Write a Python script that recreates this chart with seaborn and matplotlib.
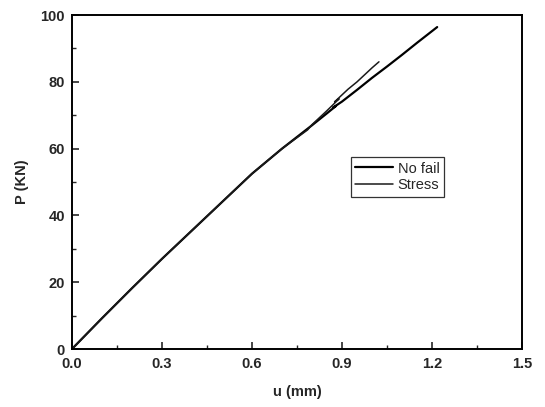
import matplotlib
matplotlib.use("Agg")
import matplotlib.pyplot as plt
from matplotlib.ticker import MultipleLocator, FormatStrFormatter
import seaborn as sns
import pandas as pd

# Data
u_nofail = [0.0, 0.1, 0.2, 0.3, 0.4, 0.5, 0.6, 0.7, 0.8, 0.85, 0.88, 0.87, 0.9, 0.95,
            1.0, 1.05, 1.1, 1.15, 1.217]
p_nofail = [0.0, 9.2, 18.2, 27.0, 35.5, 44.0, 52.5, 60.0, 67.0, 70.6, 72.8, 72.3, 74.1,
            77.6, 81.2, 84.6, 88.1, 91.7, 96.4]

u_stress = [0.0, 0.1, 0.2, 0.3, 0.4, 0.5, 0.6, 0.7, 0.785, 0.8, 0.85, 0.89, 0.875,
            0.92, 0.95, 1.0, 1.023]
p_stress = [0.0, 9.2, 18.2, 27.0, 35.5, 44.0, 52.5, 60.0, 65.6, 67.2, 71.4, 74.9, 74.0,
            77.8, 80.0, 84.2, 86.0]

series_names = ["No fail", "Stress"]

df = pd.concat([
    pd.DataFrame({"u": u_nofail, "P": p_nofail, "series": series_names[0]}),
    pd.DataFrame({"u": u_stress, "P": p_stress, "series": series_names[1]}),
], ignore_index=True)

sns.set_theme(style="ticks")
plt.rcParams["font.family"] = ["Liberation Sans", "DejaVu Sans"]
plt.rcParams["font.weight"] = "bold"

fig = plt.figure(figsize=(5.45, 4.07), dpi=100)
ax = fig.add_axes([0.132, 0.1425, 0.826, 0.8205])

sns.lineplot(data=df[df.series == "No fail"], x="u", y="P", sort=False, ax=ax,
             color="black", linewidth=1.6, label="No fail", estimator=None)
sns.lineplot(data=df[df.series == "Stress"], x="u", y="P", sort=False, ax=ax,
             color="#1a1a1a", linewidth=1.1, label="Stress", estimator=None)

ax.set_xlim(0, 1.5)
ax.set_ylim(0, 100)
ax.xaxis.set_major_locator(MultipleLocator(0.3))
ax.xaxis.set_minor_locator(MultipleLocator(0.15))
ax.yaxis.set_major_locator(MultipleLocator(20))
ax.yaxis.set_minor_locator(MultipleLocator(10))
ax.xaxis.set_major_formatter(FormatStrFormatter("%.1f"))
ax.tick_params(which="major", direction="in", length=5, width=1.2, labelsize=10.5,
               top=False, right=False)
ax.tick_params(axis="x", which="major", pad=6)
ax.tick_params(axis="y", which="major", pad=5)
ax.tick_params(which="minor", direction="in", length=3, width=1.0)
for lab in ax.get_xticklabels() + ax.get_yticklabels():
    lab.set_fontweight("bold")
for sp in ax.spines.values():
    sp.set_visible(True)
    sp.set_linewidth(1.4)
    sp.set_color("black")

ax.set_xlabel("u (mm)", fontsize=10.5, fontweight="bold", labelpad=10)
ax.set_ylabel("P (KN)", fontsize=10.5, fontweight="bold", labelpad=8)

leg = ax.legend(loc="center left", bbox_to_anchor=(0.62, 0.515), frameon=True,
                fancybox=False, edgecolor="black", fontsize=10.5, handlelength=2.6,
                handletextpad=0.3, borderpad=0.3, labelspacing=0.2, borderaxespad=0)
leg.get_frame().set_linewidth(0.9)
for t in leg.get_texts():
    t.set_fontweight("normal")

fig.savefig("out.png", dpi=100)
